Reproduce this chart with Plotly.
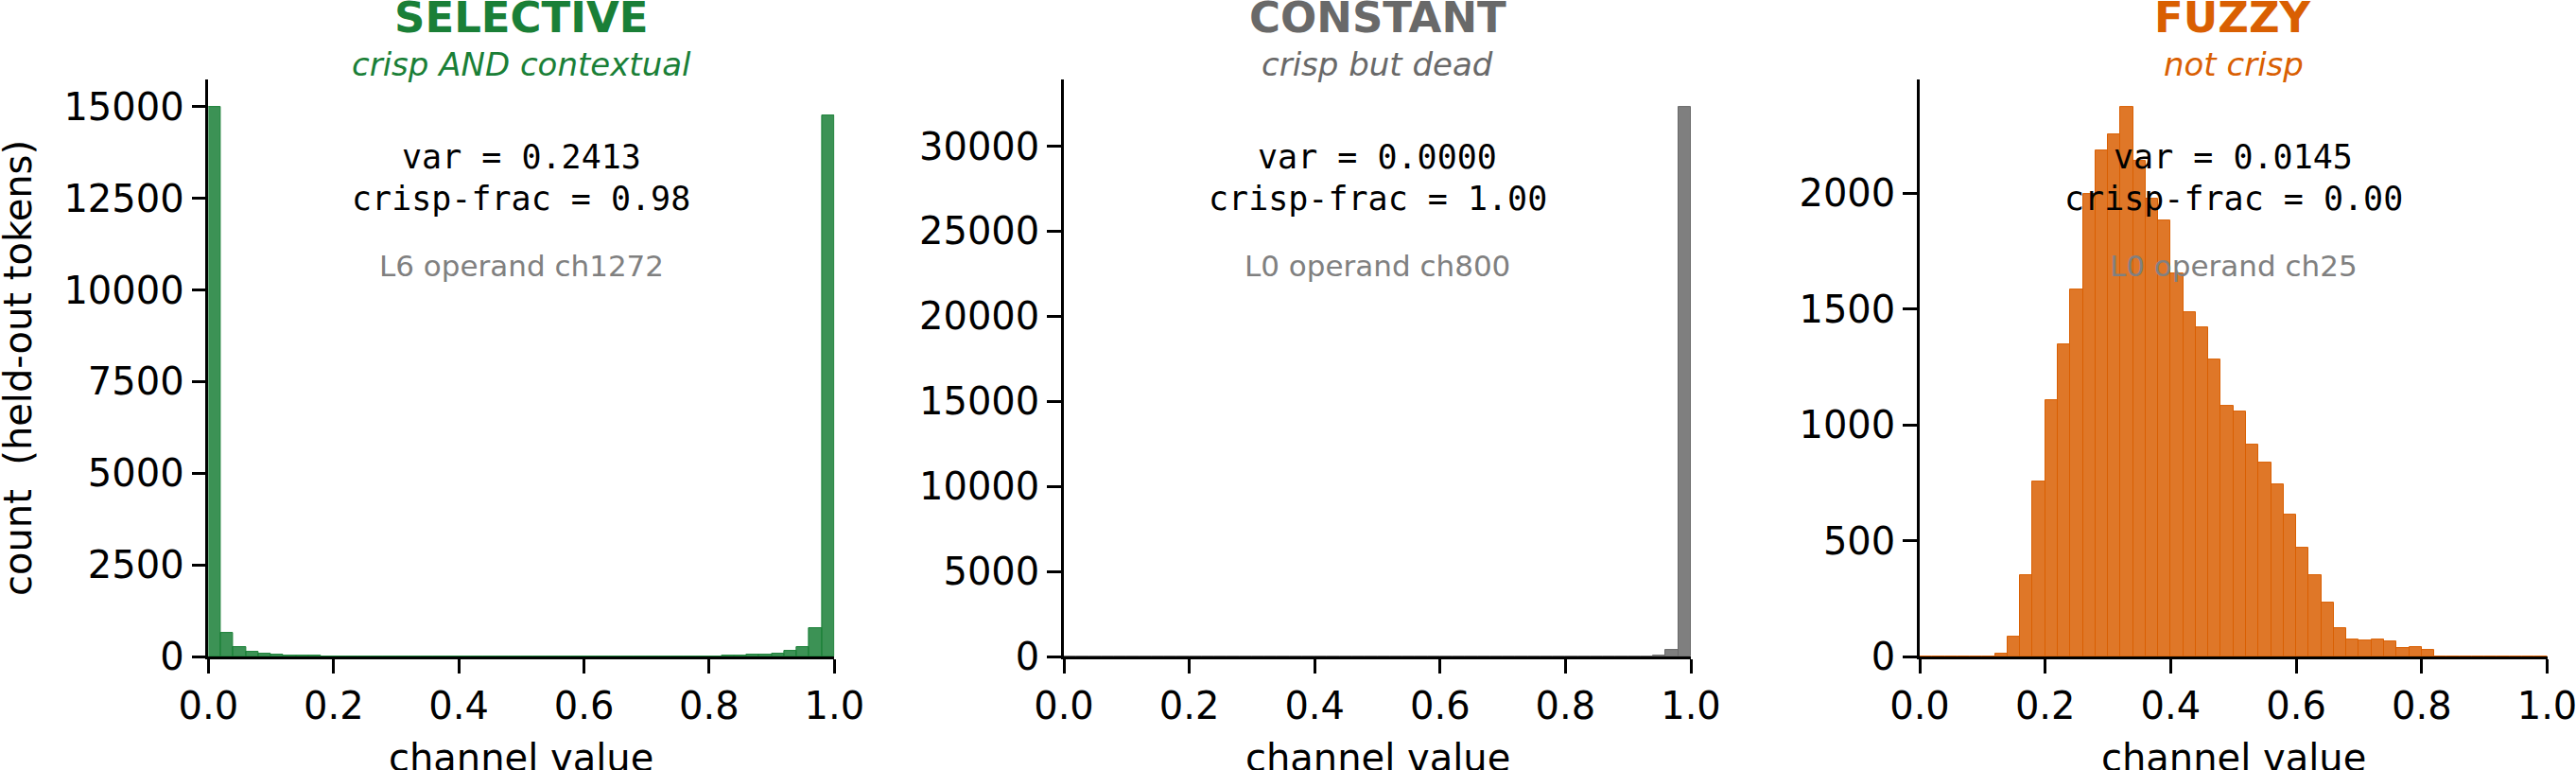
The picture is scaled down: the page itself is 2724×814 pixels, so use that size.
import numpy as np
import plotly.graph_objects as go

# ---------------- data ----------------
bin_edges = np.round(np.arange(0, 1.0001, 0.02), 4)
bin_centers = (bin_edges[:-1] + bin_edges[1:]) / 2

selective_counts = [
    14990, 660, 270, 135, 80, 60, 35, 28, 20, 12,
    15, 10, 8, 6, 5, 4, 3, 3, 2, 3,
    2, 2, 2, 2, 2, 2, 2, 2, 2, 2,
    2, 2, 3, 3, 3, 4, 4, 5, 6, 7,
    9, 17, 20, 60, 60, 90, 160, 260, 770, 14770,
]
constant_counts = [0] * 47 + [60, 380, 32300]
fuzzy_counts = [
    0, 0, 0, 0, 0, 0, 12, 85, 352, 754,
    1108, 1349, 1586, 1998, 2184, 2253, 2372, 2140, 1975, 1881,
    1652, 1485, 1423, 1284, 1081, 1057, 916, 836, 743, 612,
    471, 352, 233, 121, 75, 70, 72, 65, 38, 42,
    30, 0, 0, 0, 0, 0, 0, 0, 0, 0,
]

panel_titles = ["SELECTIVE", "CONSTANT", "FUZZY"]
panel_subtitles = ["crisp AND contextual", "crisp but dead", "not crisp"]
panel_vars = ["var = 0.2413", "var = 0.0000", "var = 0.0145"]
panel_crisp = ["crisp-frac = 0.98", "crisp-frac = 1.00", "crisp-frac = 0.00"]
panel_labels = ["L6 operand ch1272", "L0 operand ch800", "L0 operand ch25"]
panel_counts = [selective_counts, constant_counts, fuzzy_counts]
ytick_steps = [2500, 5000, 500]
x_tick_vals = [0.0, 0.2, 0.4, 0.6, 0.8, 1.0]
x_label = "channel value"
y_label = "count\u00a0 (held-out tokens)"

# ---------------- styles ----------------
base_colors = [(26, 127, 55), (105, 105, 105), (217, 95, 2)]
label_gray = "#808080"
W, H = 2724, 814
x_dom_px = [(220.4, 882.3), (1125.0, 1788.0), (2030.0, 2693.5)]
y_top_px, y_bot_px = 84.1, 694.2
FONT = "DejaVu Sans"
MONO = "DejaVu Sans Mono"


def px_x(p):
    return p / W


def px_y(p):
    return 1 - p / H


fig = go.Figure()
annotations = []
layout_axes = {}
for i in range(3):
    r, g, b = base_colors[i]
    solid = f"rgb({r},{g},{b})"
    fill = f"rgba({r},{g},{b},0.85)"
    xa = "x" if i == 0 else f"x{i+1}"
    ya = "y" if i == 0 else f"y{i+1}"
    fig.add_trace(go.Bar(
        x=bin_centers, y=panel_counts[i], width=0.02,
        marker=dict(color=fill, line=dict(color=solid, width=1)),
        xaxis=xa, yaxis=ya, showlegend=False,
    ))
    x0, x1 = x_dom_px[i]
    ymax = max(panel_counts[i]) * 1.05
    ticks = list(range(0, int(ymax) + 1, ytick_steps[i]))
    axis_common = dict(
        showline=True, linecolor="black", linewidth=2.5,
        ticks="outside", ticklen=15, tickwidth=2.5, tickcolor="black",
        showgrid=False, zeroline=False, automargin=False,
        ticklabeloverflow="allow",
        tickfont=dict(family=FONT, size=40, color="black"),
    )
    layout_axes["xaxis" if i == 0 else f"xaxis{i+1}"] = dict(
        domain=[px_x(x0), px_x(x1)], range=[0, 1], anchor=ya,
        tickvals=x_tick_vals, tickformat=".1f", **axis_common,
    )
    layout_axes["yaxis" if i == 0 else f"yaxis{i+1}"] = dict(
        domain=[px_y(y_bot_px), px_y(y_top_px)], range=[0, ymax], anchor=xa,
        tickvals=ticks, tickformat="d", **axis_common,
    )
    cx = px_x((x0 + x1) / 2)
    annotations += [
        dict(text=f"<b>{panel_titles[i]}</b>", x=cx, y=px_y(19),
             font=dict(family=FONT, size=45, color=solid)),
        dict(text=f"<i>{panel_subtitles[i]}</i>", x=cx, y=px_y(68.2),
             font=dict(family=FONT, size=34, color=solid)),
        dict(text=panel_vars[i], x=cx, y=px_y(165.5),
             font=dict(family=MONO, size=35, color="black")),
        dict(text=panel_crisp[i], x=cx, y=px_y(209.5),
             font=dict(family=MONO, size=35, color="black")),
        dict(text=panel_labels[i], x=cx, y=px_y(281),
             font=dict(family=FONT, size=31, color=label_gray)),
        dict(text=x_label, x=cx, y=px_y(801),
             font=dict(family=FONT, size=40, color="black")),
    ]

annotations.append(dict(text=y_label, x=px_x(19), y=px_y(389), textangle=-90,
                        font=dict(family=FONT, size=40, color="black")))
for a in annotations:
    a.update(xref="paper", yref="paper", showarrow=False,
             xanchor="center", yanchor="middle")

fig.update_layout(
    width=W, height=H,
    margin=dict(l=0, r=0, t=0, b=0, autoexpand=False),
    paper_bgcolor="white", plot_bgcolor="white",
    annotations=annotations,
    bargap=0,
    **layout_axes,
)
fig.write_html("out.html")
